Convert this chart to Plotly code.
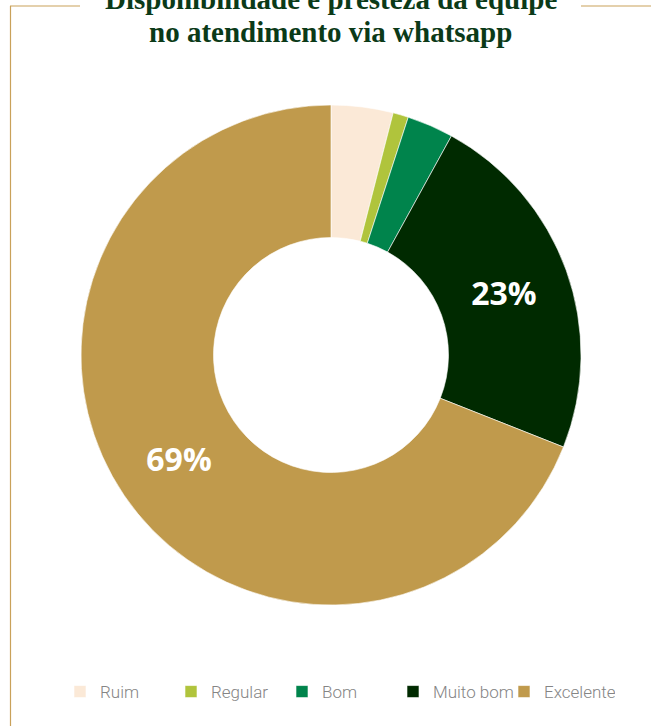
import plotly.graph_objects as go

categories = ["Ruim", "Regular", "Bom", "Muito bom", "Excelente"]
values = [4, 1, 3, 23, 69]
colors = ["#fbe9d7", "#b0c43c", "#00844c", "#002a00", "#c09a4c"]
shown = [False, False, False, True, True]
title_lines = ["Disponibilidade e presteza da equipe", "no atendimento via whatsapp"]

W, H = 651, 726
texts = [f"{v}%" if s else "" for v, s in zip(values, shown)]

fig = go.Figure(go.Pie(
    labels=categories,
    values=values,
    text=texts,
    textinfo="text",
    textposition="inside",
    insidetextorientation="horizontal",
    textfont=dict(family="Open Sans", size=32, color="white", weight="bold"),
    marker=dict(colors=colors, line=dict(color="white", width=0.6)),
    hole=0.47,
    sort=False,
    direction="clockwise",
    rotation=0,
    domain=dict(x=[81 / W, 581 / W], y=[(H - 605) / H, (H - 105) / H]),
))

title_font = dict(family="Liberation Serif", size=29, color="#0b3a18", weight="bold")
annotations = [
    dict(text=title_lines[0], x=331 / W, xref="paper", xanchor="center",
         y=(H - 17) / H, yref="paper", yanchor="bottom", showarrow=False, font=title_font),
    dict(text=title_lines[1], x=331 / W, xref="paper", xanchor="center",
         y=(H - 50) / H, yref="paper", yanchor="bottom", showarrow=False, font=title_font),
]

fig.update_layout(
    width=W, height=H,
    margin=dict(l=0, r=0, t=0, b=0),
    paper_bgcolor="white",
    plot_bgcolor="white",
    annotations=annotations,
    showlegend=True,
    legend=dict(
        orientation="h",
        x=60 / W, xanchor="left",
        y=(H - 692) / H, yanchor="middle",
        font=dict(family="Roboto", size=17, color="#858585", weight=300),
        itemwidth=30,
        entrywidth=66,
        traceorder="normal",
    ),
    shapes=[
        dict(type="line", xref="paper", yref="paper", x0=10 / W, x1=80 / W,
             y0=(H - 6) / H, y1=(H - 6) / H, line=dict(color="#c9a15a", width=1.2)),
        dict(type="line", xref="paper", yref="paper", x0=581 / W, x1=1,
             y0=(H - 6) / H, y1=(H - 6) / H, line=dict(color="#c9a15a", width=1.2)),
        dict(type="line", xref="paper", yref="paper", x0=10.5 / W, x1=10.5 / W,
             y0=0, y1=(H - 6) / H, line=dict(color="#c9a15a", width=1.2)),
    ],
)

fig.write_html("out.html", config={"displayModeBar": False},
               post_script="document.body.style.margin='0px';")
